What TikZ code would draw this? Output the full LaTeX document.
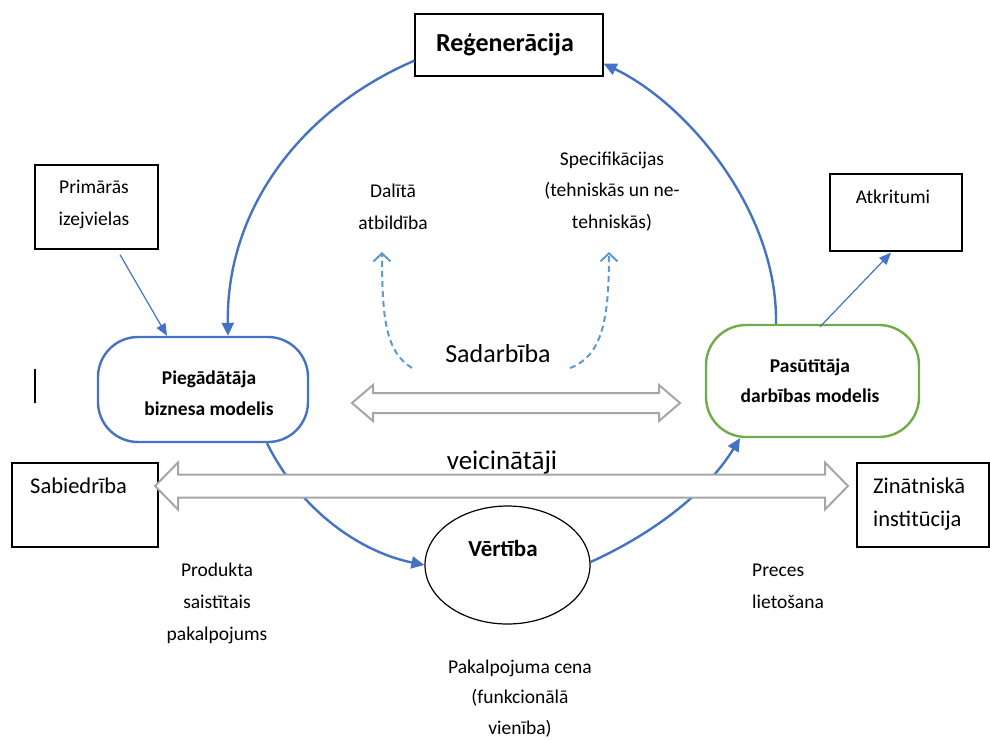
\documentclass[tikz,border=0pt]{standalone}
\usepackage{fontspec}
\setmainfont{Carlito}
\usetikzlibrary{arrows.meta,calc,shapes.geometric}
\definecolor{bl}{HTML}{4472C4}
\definecolor{gr}{HTML}{70AD47}
\definecolor{lb}{HTML}{5B9BD5}
\definecolor{gy}{HTML}{A6A6A6}
\begin{document}
\begin{tikzpicture}[x=1pt,y=-1pt,
 box/.style={draw=black, line width=1.3pt, inner sep=0pt},
 stad/.style={line width=2.4pt, rounded corners=40pt, inner sep=0pt},
 bigarc/.style={draw=bl, line width=2.4pt, -{Triangle[length=13pt,width=12pt]}},
 thinarr/.style={draw=bl, line width=1.2pt, -{Triangle[length=12pt,width=10pt]}},
 dsh/.style={draw=lb, line width=2pt, dash pattern=on 6pt off 4pt, -{Straight Barb[length=8pt,width=17pt,line width=2pt]}},
 dbl/.style={draw=gy, line width=2pt, fill=white},
 lbl/.style={inner sep=0pt, anchor=base, font=\fontsize{19.5}{32}\selectfont},
 bl2/.style={inner sep=0pt, anchor=base, font=\bfseries\fontsize{19.5}{31}\selectfont},
]
\useasboundingbox (0,0) rectangle (990,740);

% boxes
\node[box, minimum width=188pt, minimum height=62pt] (reg) at (509,45) {};
\node[inner sep=0pt, anchor=base, font=\bfseries\fontsize{26}{30}\selectfont] (regt) at (505,51) {Reģenerācija};

\node[box, minimum width=123pt, minimum height=84pt] (prim) at (96.5,207) {};
\node[lbl] (primt) at (94,193) {\begin{tabular}[t]{@{}c@{}}Primārās\\izejvielas\end{tabular}};

\node[box, minimum width=132pt, minimum height=77pt] (atk) at (896,212.5) {};
\node[lbl] (atkt) at (893,203) {Atkritumi};

\node[box, minimum width=146pt, minimum height=84pt] (sab) at (85,505) {};
\node[lbl, anchor=base west, font=\fontsize{22.5}{33}\selectfont] (sabt) at (30,493) {Sabiedrība};

\node[box, minimum width=132pt, minimum height=84pt] (zin) at (923,505) {};
\node[lbl, anchor=base west, font=\fontsize{22.5}{33}\selectfont] (zint) at (873,493) {\begin{tabular}[t]{@{}l@{}}Zinātniskā\\institūcija\end{tabular}};

% stadiums
\node[stad, draw=bl, minimum width=210pt, minimum height=105pt] (pieg) at (203,389.5) {};
\node[bl2] (piegt) at (209,384) {\begin{tabular}[t]{@{}c@{}}Piegādātāja\\biznesa modelis\end{tabular}};

\node[stad, draw=gr, minimum width=213pt, minimum height=112pt] (pas) at (812.5,381) {};
\node[bl2, font=\bfseries\fontsize{19.5}{30}\selectfont] (past) at (810,372) {\begin{tabular}[t]{@{}c@{}}Pasūtītāja\\darbības modelis\end{tabular}};

% ellipse
\node[draw=black, line width=1.2pt, ellipse, minimum width=165pt, minimum height=118pt, inner sep=0pt] (ell) at (507.5,565) {};
\node[inner sep=0pt, anchor=base, font=\bfseries\fontsize{23}{28}\selectfont] (ellt) at (503,556) {Vērtība};

% small mark
\draw[black, line width=1.2pt] (35,369) -- (35,403);

% big blue arcs
\draw[bigarc] ($(reg.south west)+(0,-16)$) .. controls (300,110) and (226,210) .. ($(pieg.north)+(25,0)$);
\draw[bigarc] ($(pas.north)+(-36.5,0)$) .. controls (778,210) and (686,103) .. ($(reg.south east)+(0,-13)$);
\draw[bigarc] ($(pieg.south)+(64,0)$) .. controls (300,510) and (360,552) .. (ell.west);
\draw[bigarc] ($(ell.east)+(0,-3)$) .. controls (650,535) and (705,495) .. ($(pas.south)+(-72.5,0)$);

% thin arrows
\draw[thinarr] ($(prim.south)+(23.5,5)$) -- ($(pieg.north)+(-36,0)$);
\draw[thinarr] ($(pas.north)+(7.5,3)$) -- ($(atk.south)+(-5,1)$);

% dashed arrows
\coordinate (d1s) at (412,368);
\coordinate (d1e) at (382,252);
\coordinate (d2s) at (570,368);
\coordinate (d2e) at (609,252);
\draw[dsh] (d1s) .. controls (386,352) and (382,320) .. (d1e);
\draw[dsh] (d2s) .. controls (602,356) and (609,320) .. (d2e);

% grey double arrows
\draw[dbl] (352,403) -- (373,385) -- (373,393) -- (659,393) -- (659,385) -- (680,403) -- (659,421) -- (659,413) -- (373,413) -- (373,421) -- cycle;
\draw[dbl] (155,486) -- (178,462.5) -- (178,474.5) -- (825,474.5) -- (825,462.5) -- (848,486) -- (825,509.5) -- (825,497.5) -- (178,497.5) -- (178,509.5) -- cycle;

% texts
\node[inner sep=0pt, anchor=base, font=\fontsize{26}{30}\selectfont] (sad) at (498,362) {Sadarbība};
\node[inner sep=0pt, anchor=base, font=\fontsize{27}{30}\selectfont] (vei) at (502,469) {veicinātāji};

\node[lbl] (dal) at (393,197) {\begin{tabular}[t]{@{}c@{}}Dalītā\\atbildība\end{tabular}};
\node[lbl, font=\fontsize{19.5}{31.5}\selectfont] (spec) at (612,165) {\begin{tabular}[t]{@{}c@{}}Specifikācijas\\(tehniskās un ne-\\tehniskās)\end{tabular}};

\node[lbl] (prod) at (217,576) {\begin{tabular}[t]{@{}c@{}}Produkta\\saistītais\\pakalpojums\end{tabular}};
\node[lbl, anchor=base west] (prec) at (752,576) {\begin{tabular}[t]{@{}l@{}}Preces\\lietošana\end{tabular}};
\node[lbl, font=\fontsize{19.5}{30.5}\selectfont] (cena) at (520,673) {\begin{tabular}[t]{@{}c@{}}Pakalpojuma cena\\(funkcionālā\\vienība)\end{tabular}};
\end{tikzpicture}
\end{document}
